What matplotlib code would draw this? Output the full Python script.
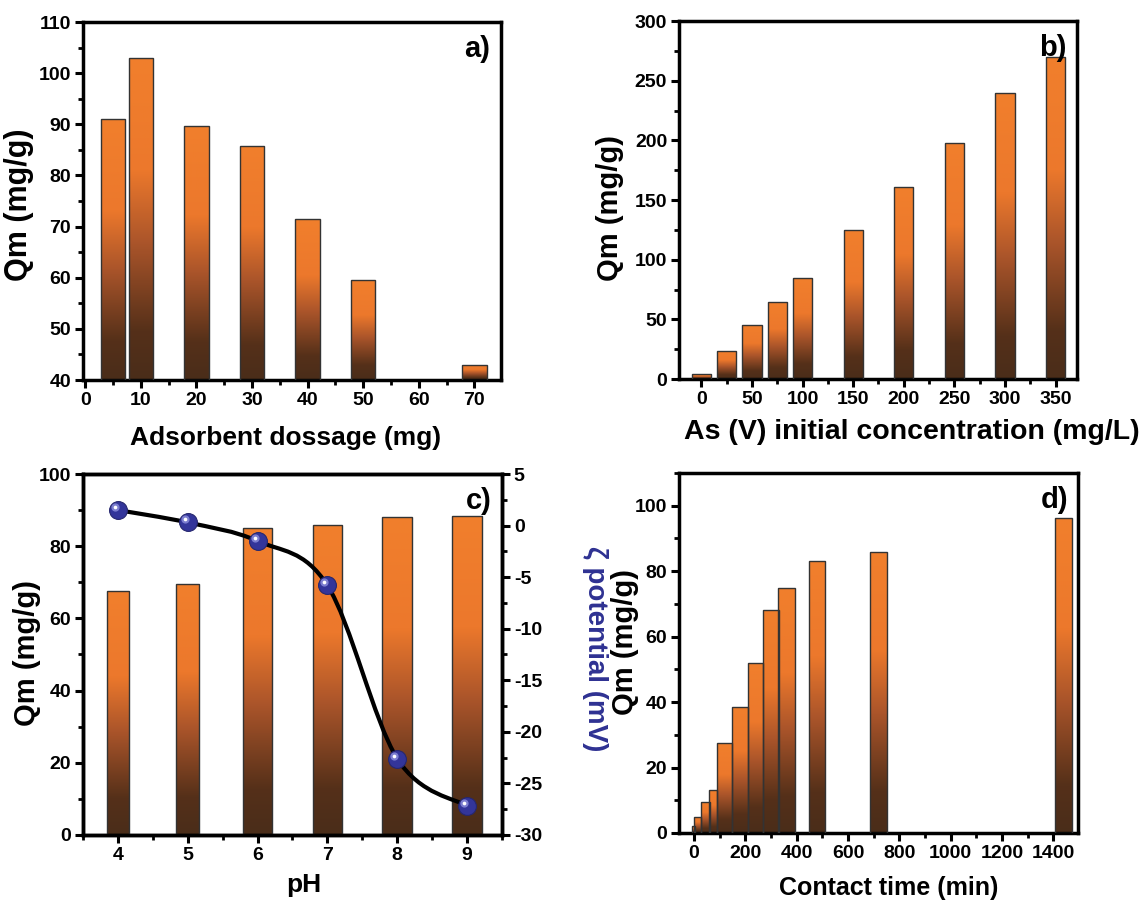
import matplotlib
matplotlib.use("Agg")
import matplotlib.pyplot as plt
import numpy as np
from matplotlib.colors import LinearSegmentedColormap
from matplotlib.path import Path
from matplotlib.patches import PathPatch
from matplotlib.ticker import MultipleLocator, AutoMinorLocator
import matplotlib.transforms as mtransforms

plt.rcParams['font.family'] = ['Liberation Sans', 'DejaVu Sans']
plt.rcParams['font.weight'] = 'bold'
plt.rcParams['axes.unicode_minus'] = False

# a) adsorbent dosage
dose_mg = [5, 10, 20, 30, 40, 50, 70]
qm_dose = [91, 103, 89.6, 85.8, 71.4, 59.5, 43]

# b) initial concentration
conc = [0, 25, 50, 75, 100, 150, 200, 250, 300, 350]
qm_conc = [4, 23.5, 45.5, 64.5, 84.5, 124.5, 160.5, 198, 240, 269.5]

# c) pH and zeta potential
ph = [4, 5, 6, 7, 8, 9]
qm_ph = [67.5, 69.5, 85, 86, 88, 88.5]
zeta = [1.5, 0.3, -1.5, -5.8, -22.6, -27.2]
ph_width = [0.32, 0.33, 0.41, 0.42, 0.43, 0.43]

# d) contact time
time_min = [0, 15, 45, 75, 120, 180, 240, 300, 360, 480, 720, 1440]
qm_time = [2, 5, 9.5, 13, 27.5, 38.5, 52, 68, 75, 83, 86, 96.2]
time_width = [12, 27, 32, 30, 58, 60, 61, 61, 64, 65, 66, 65]

cmap = LinearSegmentedColormap.from_list(
    'bar', [(0, '#4a2d1a'), (0.15, '#553019'), (0.42, '#a9542a'),
            (0.65, '#ec782c'), (1, '#f17f2c')])

fig = plt.figure(figsize=(11.45, 9.02), dpi=100)


def gradient_bars(ax, x, h, width, bottom):
    bars = ax.bar(x, np.array(h) - bottom, width=width, bottom=bottom,
                  facecolor='none', edgecolor='#333333', linewidth=1.0, zorder=3)
    grad = np.linspace(0, 1, 256).reshape(-1, 1)
    for b in bars:
        x0, y0 = b.get_x(), b.get_y()
        im = ax.imshow(grad, cmap=cmap, origin='lower', aspect='auto',
                       extent=[x0, x0 + b.get_width(), y0, y0 + b.get_height()],
                       zorder=2, interpolation='bilinear')
        im.set_clip_path(b)
    return bars


def style(ax, label, xlabel, ylabel, xpos, ypos, xls=19, yls=21, tls=14):
    for s in ax.spines.values():
        s.set_linewidth(2.5)
    ax.tick_params(which='major', direction='out', length=5.5, width=2.2,
                   labelsize=tls, top=False, pad=3)
    ax.tick_params(which='minor', direction='out', length=3.5, width=2, top=False)
    ax.tick_params(axis='y', which='both', right=False)
    ax.xaxis.set_minor_locator(AutoMinorLocator(2))
    ax.yaxis.set_minor_locator(AutoMinorLocator(2))
    for t in ax.get_xticklabels() + ax.get_yticklabels():
        t.set_fontweight('bold')
    ax.set_xlabel(xlabel, fontsize=xls, fontweight='bold')
    ax.set_ylabel(ylabel, fontsize=yls, fontweight='bold')
    ax.xaxis.set_label_coords(*xpos)
    ax.yaxis.set_label_coords(*ypos)
    ax.text(0.975, 0.965, label, transform=ax.transAxes, ha='right', va='top',
            fontsize=21, fontweight='bold', zorder=6)


# panel a
ax1 = fig.add_axes([0.0725, 0.5787, 0.3651, 0.3969])
ax1.set_xlim(-0.4, 74.8)
ax1.set_ylim(40, 110)
gradient_bars(ax1, dose_mg, qm_dose, 4.4, 40)
ax1.xaxis.set_major_locator(MultipleLocator(10))
ax1.yaxis.set_major_locator(MultipleLocator(10))
style(ax1, 'a)', 'Adsorbent dossage (mg)', 'Qm (mg/g)',
      (0.484, -0.128), (-0.118, 0.49), xls=19, yls=22)

# panel b
ax2 = fig.add_axes([0.593, 0.5798, 0.3476, 0.3969])
ax2.set_xlim(-22, 371)
ax2.set_ylim(0, 300)
gradient_bars(ax2, conc, qm_conc, 19, 0)
ax2.xaxis.set_major_locator(MultipleLocator(50))
ax2.yaxis.set_major_locator(MultipleLocator(50))
style(ax2, 'b)', 'As (V) initial concentration (mg/L)', 'Qm (mg/g)',
      (0.585, -0.112), (-0.138, 0.478), xls=20.5)

# panel c
ax3 = fig.add_axes([0.0725, 0.0743, 0.3659, 0.4002])
ax3.set_xlim(3.5, 9.5)
ax3.set_ylim(0, 100)
gradient_bars(ax3, ph, qm_ph, ph_width, 0)
ax3.xaxis.set_major_locator(MultipleLocator(1))
ax3.yaxis.set_major_locator(MultipleLocator(20))
style(ax3, 'c)', 'pH', 'Qm (mg/g)', (0.526, -0.105), (-0.1, 0.505))

ax3r = ax3.twinx()
ax3r.set_ylim(-30, 5)
ax3r.yaxis.set_major_locator(MultipleLocator(5))
ax3r.yaxis.set_minor_locator(AutoMinorLocator(2))
ax3r.tick_params(which='major', direction='out', length=5.5, width=2.2,
                 labelsize=14, pad=3)
ax3r.tick_params(which='minor', direction='out', length=3.5, width=2)
for t in ax3r.get_yticklabels():
    t.set_fontweight('bold')
for s in ax3r.spines.values():
    s.set_linewidth(2.5)
ax3r.set_ylabel('ζ potential (mV)', fontsize=20, fontweight='bold',
                color='#2e3192', rotation=270, va='center', ha='center')
ax3r.yaxis.set_label_coords(1.222, 0.517)

# smooth curve (Catmull-Rom as bezier segments)
px = np.array(ph, dtype=float)
py = np.array(zeta, dtype=float)
verts = [(px[0], py[0])]
codes = [Path.MOVETO]
for i in range(len(px) - 1):
    p0 = (px[max(i - 1, 0)], py[max(i - 1, 0)])
    p1 = (px[i], py[i])
    p2 = (px[i + 1], py[i + 1])
    p3 = (px[min(i + 2, len(px) - 1)], py[min(i + 2, len(px) - 1)])
    c1 = (p1[0] + (p2[0] - p0[0]) / 6, p1[1] + (p2[1] - p0[1]) / 6)
    c2 = (p2[0] - (p3[0] - p1[0]) / 6, p2[1] - (p3[1] - p1[1]) / 6)
    verts += [c1, c2, p2]
    codes += [Path.CURVE4] * 3
ax3r.add_patch(PathPatch(Path(verts, codes), facecolor='none',
                         edgecolor='black', linewidth=3, zorder=4))
ax3r.scatter(ph, zeta, s=165, color='#33359a', edgecolor='#26276f',
             linewidth=0.8, zorder=5)
shift = mtransforms.ScaledTranslation(-2.2 / 72, 2.2 / 72, fig.dpi_scale_trans)
ax3r.scatter(ph, zeta, s=35, color='#9a9ce6', alpha=0.7, linewidth=0,
             zorder=6, transform=ax3r.transData + shift)
ax3r.scatter(ph, zeta, s=7, color='white', linewidth=0,
             zorder=7, transform=ax3r.transData + shift)

# panel d
ax4 = fig.add_axes([0.593, 0.0765, 0.3485, 0.3991])
ax4.set_xlim(-58, 1496)
ax4.set_ylim(0, 110)
gradient_bars(ax4, time_min, qm_time, time_width, 0)
ax4.xaxis.set_major_locator(MultipleLocator(200))
ax4.yaxis.set_major_locator(MultipleLocator(20))
style(ax4, 'd)', 'Contact time (min)', 'Qm (mg/g)',
      (0.525, -0.12), (-0.1, 0.53), xls=18)

fig.savefig('out.png', dpi=100)
